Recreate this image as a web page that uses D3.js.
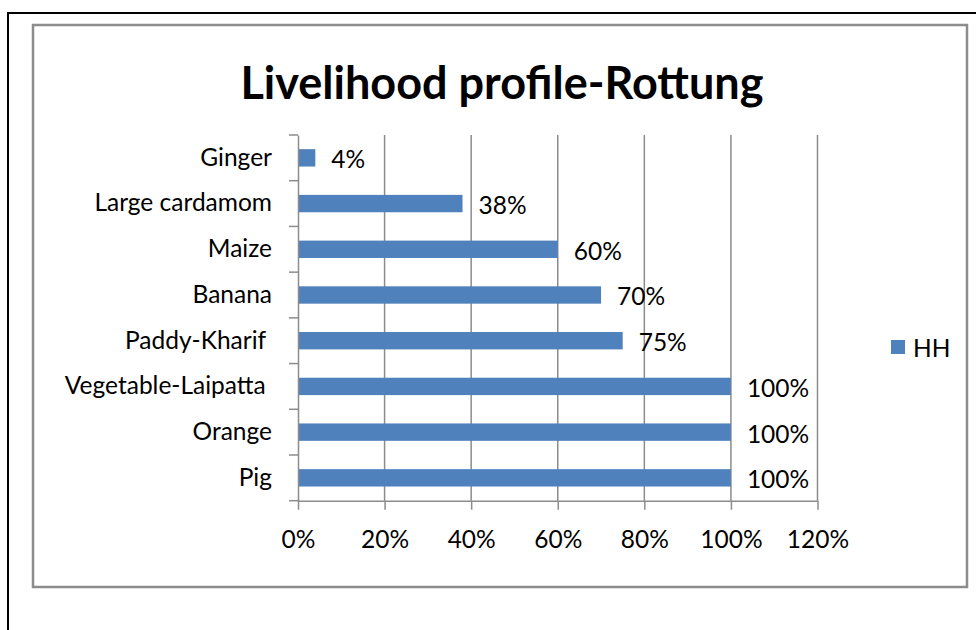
<!DOCTYPE html>
<html>
<head>
<meta charset="utf-8">
<script src="https://cdn.jsdelivr.net/npm/d3@7/dist/d3.min.js"></script>
<style>
  html, body { margin: 0; padding: 0; background: #fff; }
  svg { display: block; }
  text { font-family: Lato, "Open Sans", sans-serif; fill: #000; }
</style>
</head>
<body>
<svg id="chart" width="976" height="630"></svg>
<script>
// Crops / livelihood activities, listed top to bottom
const categories = ["Ginger", "Large cardamom", "Maize", "Banana", "Paddy-Kharif ", "Vegetable-Laipatta ", "Orange", "Pig"];
// Share of households (HH) engaged in each activity
const hhValues = [0.04, 0.38, 0.60, 0.70, 0.75, 1.00, 1.00, 1.00];
// Horizontal axis tick values
const xTicks = [0, 0.2, 0.4, 0.6, 0.8, 1.0, 1.2];
const seriesName = "HH";
const chartTitle = "Livelihood profile-Rottung";

const data = categories.map((c, i) => ({ cat: c, value: hhValues[i] }));

const svg = d3.select("#chart");
const barColor = "#4f81bd";
const gridColor = "#8c8c8c";
const fontSize = 24.5;

// Page frame and chart frame
svg.append("rect").attr("x", 8).attr("y", 13).attr("width", 1000).attr("height", 700)
  .attr("fill", "none").attr("stroke", "#000").attr("stroke-width", 2);
svg.append("rect").attr("x", 33).attr("y", 25).attr("width", 934).attr("height", 562)
  .attr("fill", "#fff").attr("stroke", gridColor).attr("stroke-width", 2.5);

// Title
svg.append("text").attr("x", 502).attr("y", 99).attr("text-anchor", "middle")
  .style("font-weight", "bold").style("font-size", "45px").text(chartTitle);

const plot = { left: 298, right: 817.5, top: 135, bottom: 500.7 };

const x = d3.scaleLinear().domain([0, 1.2]).range([plot.left, plot.right]);
const y = d3.scaleBand().domain(categories).range([plot.top, plot.bottom])
  .paddingInner(0.62).paddingOuter(0.31);
const step = y.step();

// Vertical gridlines
svg.append("g").selectAll("line").data(xTicks.filter(t => t > 0)).join("line")
  .attr("x1", d => x(d)).attr("x2", d => x(d))
  .attr("y1", plot.top).attr("y2", plot.bottom)
  .attr("stroke", gridColor).attr("stroke-width", 1.5);

// Bars
svg.append("g").selectAll("rect").data(data).join("rect")
  .attr("x", x(0)).attr("y", d => y(d.cat))
  .attr("width", d => x(d.value) - x(0)).attr("height", y.bandwidth())
  .attr("fill", barColor);

// Value labels
svg.append("g").selectAll("text").data(data).join("text")
  .attr("x", d => x(d.value) + 16)
  .attr("y", d => y(d.cat) + y.bandwidth() / 2 + 1)
  .attr("dominant-baseline", "central")
  .style("font-size", fontSize + "px")
  .text(d => d3.format(".0%")(d.value));

// Bottom axis
const xAxis = svg.append("g").attr("transform", `translate(0,${plot.bottom})`)
  .call(d3.axisBottom(x).tickValues(xTicks).tickSize(9).tickSizeOuter(0).tickPadding(21)
    .tickFormat(d3.format(".0%")));
xAxis.select(".domain").attr("stroke", gridColor).attr("stroke-width", 1.5);
xAxis.selectAll(".tick line").attr("stroke", gridColor).attr("stroke-width", 1.5);
xAxis.selectAll(".tick text").style("font-size", fontSize + "px")
  .style("font-family", "Lato, sans-serif").attr("fill", "#000");

// Left axis with category labels
const yAxis = svg.append("g").attr("transform", `translate(${plot.left},0)`)
  .call(d3.axisLeft(y).tickSize(0).tickPadding(26));
yAxis.select(".domain").attr("stroke", gridColor).attr("stroke-width", 1.5);
yAxis.selectAll(".tick text").style("font-size", fontSize + "px")
  .style("font-family", "Lato, sans-serif").style("white-space", "pre").attr("fill", "#000");

// Tick marks on category boundaries
const bounds = categories.map(c => y(c) - step * y.paddingInner() / 2)
  .concat([plot.bottom]);
svg.append("g").selectAll("line").data(bounds).join("line")
  .attr("x1", plot.left - 9).attr("x2", plot.left)
  .attr("y1", d => d).attr("y2", d => d)
  .attr("stroke", gridColor).attr("stroke-width", 1.5);

// Legend
const legend = svg.append("g").attr("transform", "translate(891,340)");
legend.append("rect").attr("width", 14).attr("height", 14).attr("fill", barColor);
legend.append("text").attr("x", 22).attr("y", 7).attr("dominant-baseline", "central")
  .style("font-size", fontSize + "px").text(seriesName);
</script>
</body>
</html>
